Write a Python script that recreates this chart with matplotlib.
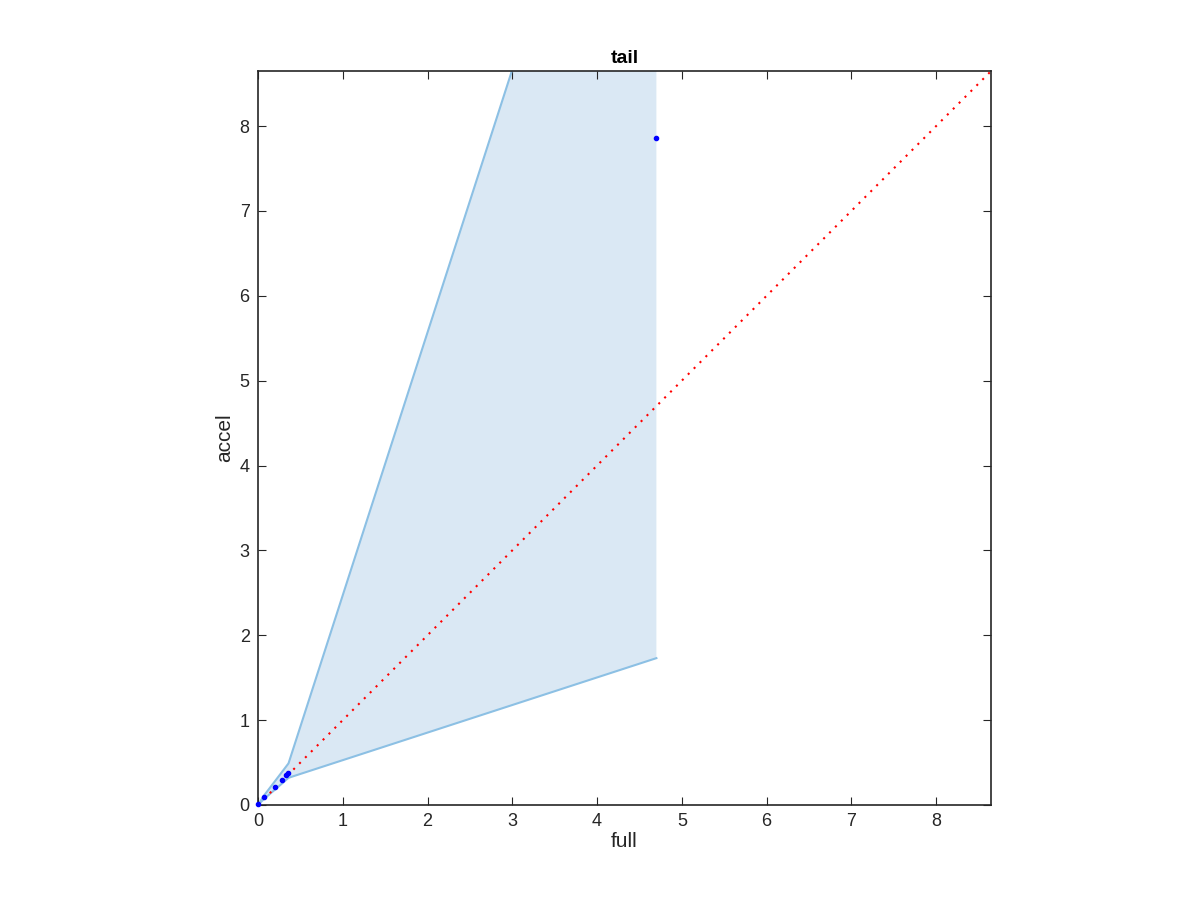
import numpy as np
import matplotlib.pyplot as plt

plt.rcParams['font.family'] = ['Liberation Sans', 'DejaVu Sans']

# scattered points (full vs accel)
full_pts = [0.0, 0.07, 0.2, 0.28, 0.33, 0.35, 4.7]
accel_pts = [0.01, 0.09, 0.21, 0.3, 0.35, 0.38, 7.86]

# band bounds
band_x = [0.0, 0.07, 0.2, 0.36, 4.7]
band_hi = [0.0, 0.11, 0.28, 0.49, 13.93]
band_lo = [0.0, 0.07, 0.18, 0.32, 1.73]

lim = 8.65

fig = plt.figure(figsize=(12, 9), dpi=100)
ax = fig.add_axes([0.215, 0.1056, 0.611, 0.8156])

ax.fill_between(band_x, band_lo, band_hi, color='#dae8f4', linewidth=0)
ax.plot(band_x, band_hi, color='#8cc0e4', lw=1.5)
ax.plot(band_x, band_lo, color='#8cc0e4', lw=1.5)
ax.plot([0, lim], [0, lim], color='red', ls=(0, (1, 3)), lw=1.5)
ax.plot(full_pts, accel_pts, '.', color='blue', ms=6, clip_on=False, zorder=5)

ax.set_xlim(0, lim)
ax.set_ylim(0, lim)
ax.set_xticks(range(0, 9))
ax.set_yticks(range(0, 9))
ax.tick_params(direction='in', top=True, right=True, labelsize=13, colors='#262626',
               length=6, pad=6)
for s in ax.spines.values():
    s.set_color('#262626')
    s.set_linewidth(1.2)

ax.set_xlabel('full', fontsize=15, color='#262626', labelpad=1)
ax.set_ylabel('accel', fontsize=15, color='#262626', labelpad=4)
ax.set_title('tail', fontsize=14, fontweight='bold', pad=6)

fig.savefig('out.png')
